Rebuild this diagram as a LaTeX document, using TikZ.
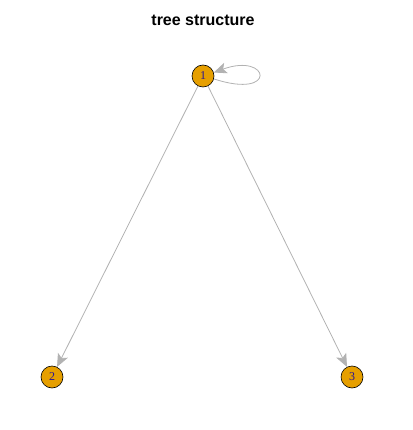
\documentclass[tikz,border=0pt]{standalone}
\usepackage{fontspec}
\setmainfont{Liberation Serif}
\newfontfamily\titlefont{Liberation Sans}
\usetikzlibrary{arrows.meta}
\definecolor{vfill}{RGB}{230,159,0}
\definecolor{edgegray}{RGB}{178,178,178}
\definecolor{labblue}{RGB}{40,20,150}
\tikzset{
  vert/.style={circle,draw=black,fill=vfill,minimum size=22pt,inner sep=0pt,line width=0.6pt,
    text=labblue,font=\fontsize{12}{12}\selectfont},
  edge/.style={draw=edgegray,line width=0.8pt,-{Stealth[length=13pt,width=11pt,inset=3pt,fill=edgegray]}}
}
\begin{document}
\begin{tikzpicture}[x=1pt,y=-1pt]
\useasboundingbox (0,0) rectangle (412,430);
\node[font=\titlefont\bfseries\fontsize{16}{16}\selectfont] (title) at (203,20) {tree structure};
\node[vert] (n1) at (203,76) {1};
\node[vert] (n2) at (52,377) {2};
\node[vert] (n3) at (352,377) {3};
\draw[edge] (n1) -- (n2);
\draw[edge] (n1) -- (n3);
\draw[edge] (n1.-15) .. controls (278,100) and (270,52) .. (n1.18);
\end{tikzpicture}
\end{document}
